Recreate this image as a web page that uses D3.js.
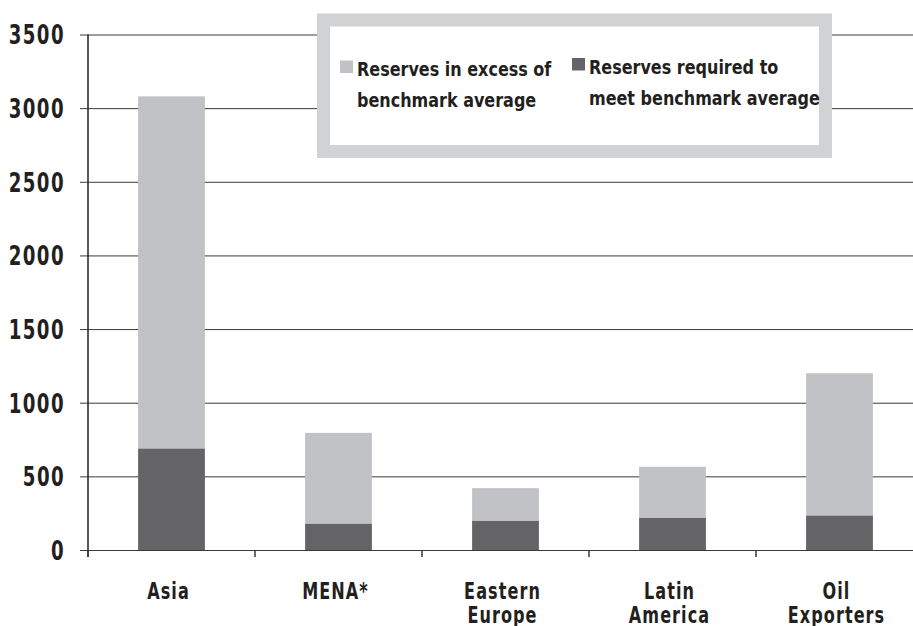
<!DOCTYPE html>
<html>
<head>
<meta charset="utf-8">
<script src="https://cdn.jsdelivr.net/npm/d3@7"></script>
<style>
  body { margin: 0; background: #fff; }
  svg text { font-family: "DejaVu Sans", sans-serif; font-weight: bold; fill: #231f20; }
</style>
</head>
<body>
<div id="chart"></div>
<script>
// chart data
var regions = [["Asia"], ["MENA*"], ["Eastern", "Europe"], ["Latin", "America"], ["Oil", "Exporters"]];
var required = [690, 180, 200, 220, 235];
var excess = [2390, 615, 220, 345, 965];
var yTicks = [0, 500, 1000, 1500, 2000, 2500, 3000, 3500];
var legendLabels = [["Reserves in excess of", "benchmark average"], ["Reserves required to", "meet benchmark average"]];

var lightGray = "#c1c2c5", darkGray = "#646466";

var width = 913, height = 626;
var plotLeft = 88, plotBottom = 550, plotTop = 34.5, step = 167;

var svg = d3.select("#chart").append("svg")
    .attr("width", width)
    .attr("height", height);

var x = d3.scaleBand()
    .domain(d3.range(regions.length))
    .range([plotLeft, plotLeft + step * regions.length])
    .padding(0);

var y = d3.scaleLinear().domain([0, 3500]).range([plotBottom, plotTop]);

// gridlines + y axis
var yAxis = d3.axisLeft(y).tickValues(yTicks).tickSize(8).tickFormat(d3.format("d"));
var gy = svg.append("g").attr("transform", "translate(" + plotLeft + ",0)").call(yAxis);
gy.select(".domain").remove();
gy.selectAll(".tick line").attr("stroke", "#3a3a3a");
// fake a condensed face by squeezing the glyphs
gy.selectAll(".tick text")
    .attr("x", 0)
    .attr("dy", "0.36em")
    .attr("transform", "translate(-23,0) scale(0.7,1)")
    .style("font-size", "26px")
    .style("letter-spacing", "2px");
gy.selectAll(".tick").append("line")
    .attr("x1", 0).attr("x2", width - plotLeft)
    .attr("stroke", "#3a3a3a").attr("stroke-width", 1);

// vertical axis line
svg.append("line")
    .attr("x1", plotLeft).attr("x2", plotLeft)
    .attr("y1", y(3500)).attr("y2", plotBottom + 7)
    .attr("stroke", "#231f20").attr("stroke-width", 1.5);

// x axis category ticks
svg.selectAll(".xtick")
    .data(d3.range(regions.length + 1))
    .enter().append("line")
    .attr("class", "xtick")
    .attr("x1", function(d) { return plotLeft + step * d; })
    .attr("x2", function(d) { return plotLeft + step * d; })
    .attr("y1", plotBottom).attr("y2", plotBottom + 7)
    .attr("stroke", "#3a3a3a").attr("stroke-width", 1.5);

// stacked bars
var barW = x.bandwidth() * 0.4;
var bars = svg.append("g");
bars.selectAll(".req")
    .data(required)
    .enter().append("rect")
    .attr("x", function(d, i) { return x(i) + (x.bandwidth() - barW) / 2; })
    .attr("y", function(d) { return y(d); })
    .attr("width", barW)
    .attr("height", function(d) { return plotBottom - y(d); })
    .attr("fill", darkGray);
bars.selectAll(".exc")
    .data(excess)
    .enter().append("rect")
    .attr("x", function(d, i) { return x(i) + (x.bandwidth() - barW) / 2; })
    .attr("y", function(d, i) { return y(d + required[i]); })
    .attr("width", barW)
    .attr("height", function(d, i) { return y(required[i]) - y(d + required[i]); })
    .attr("fill", lightGray);

// x labels
var xl = svg.selectAll(".xlab")
    .data(regions)
    .enter().append("text")
    .attr("class", "xlab")
    .attr("text-anchor", "middle")
    .attr("transform", function(d, i) {
        return "translate(" + (x(i) + x.bandwidth() / 2 - 3) + ",0) scale(0.7,1)";
    })
    .style("font-size", "23px")
    .style("letter-spacing", "1.5px");
xl.selectAll("tspan")
    .data(function(d) { return d; })
    .enter().append("tspan")
    .attr("x", 0)
    .attr("y", function(d, j) { return 599 + j * 24; })
    .text(function(d) { return d; });

// legend
var lg = svg.append("g");
lg.append("rect")
    .attr("x", 323.5).attr("y", 20)
    .attr("width", 502).attr("height", 131.5)
    .attr("fill", "#fff")
    .attr("stroke", "#d1d2d4").attr("stroke-width", 13);
var legX = [340, 572];
var legColors = [lightGray, darkGray];
legendLabels.forEach(function(lines, i) {
    lg.append("rect")
        .attr("x", legX[i]).attr("y", i ? 58 : 60.5)
        .attr("width", 13).attr("height", 12.5)
        .attr("fill", legColors[i]);
    var t = lg.append("g")
        .attr("transform", "translate(" + (legX[i] + 17) + ",0) scale(0.8,1)")
        .append("text")
        .style("font-size", "20px");
    lines.forEach(function(s, j) {
        t.append("tspan")
            .attr("x", 0)
            .attr("y", (i ? 74 : 76) + j * 31)
            .text(s);
    });
});
</script>
</body>
</html>
